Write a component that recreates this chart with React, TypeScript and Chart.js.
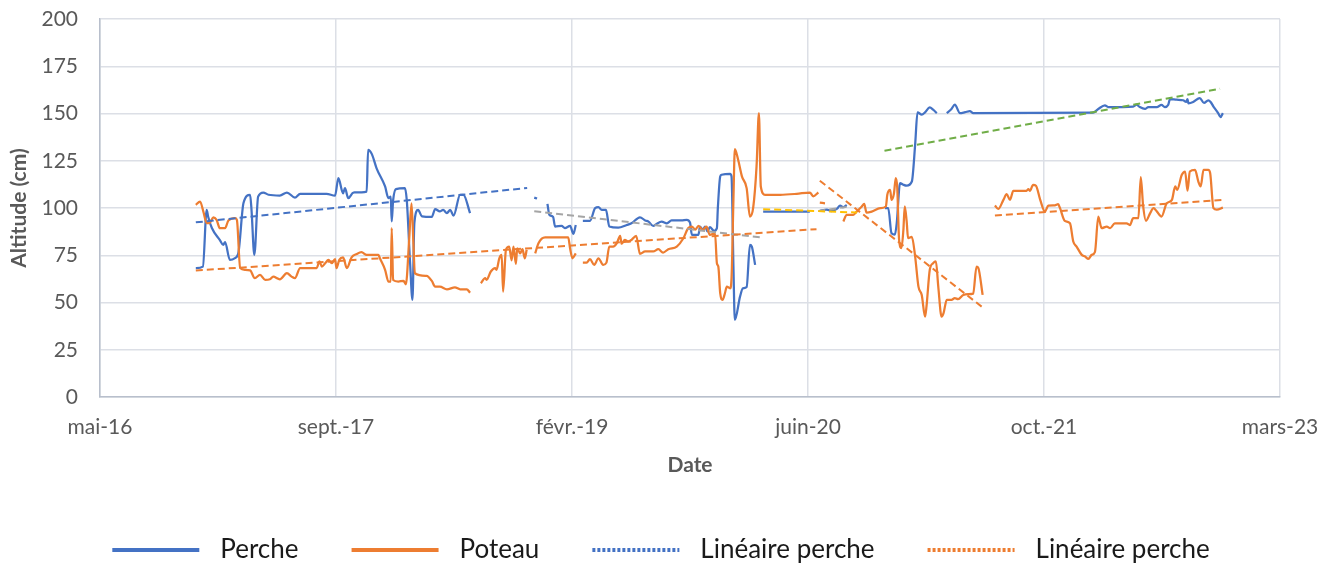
import React, { useEffect, useRef } from 'react';
import { Chart, registerables } from 'chart.js';

Chart.register(...registerables);

// X axis: Excel date serials (days), ticks every 500 days
const X_TICK_VALUES = [42500, 43000, 43500, 44000, 44500, 45000];
const X_TICK_LABELS = ['mai-16', 'sept.-17', 'févr.-19', 'juin-20', 'oct.-21', 'mars-23'];

// Perche (null = gap between measurement campaigns)
const PERCHE: [number, number | null][] = [
  [42703, 68.2], [42718, 69], [42726, 99], [42729, 95.5], [42737, 89.4], [42754, 83], [42761, 80.5], [42765, 82],
  [42775, 72.6], [42786, 73.5], [42793, 76], [42804, 102.6], [42818, 107], [42821, 99], [42827, 75.2], [42835, 106],
  [42846, 108.2], [42857, 107], [42881, 106.6], [42896, 108.2], [42913, 105.5], [42924, 107.5], [42980, 107.5],
  [42998, 106.5], [43005, 115.8], [43015, 107.8], [43019, 110.5], [43026, 105.2], [43037, 108.2], [43065, 108.7],
  [43068, 130.8], [43076, 128.5], [43086, 121], [43104, 111.4], [43111, 105.2], [43116, 106], [43118, 92.9],
  [43121, 104], [43127, 110], [43146, 110.5], [43150, 104], [43157, 70.8], [43162, 51.4], [43166, 92], [43174, 99],
  [43182, 95.6], [43203, 95.3], [43210, 99.4], [43220, 98.2], [43227, 99], [43235, 97.3], [43242, 99], [43249, 96],
  [43263, 107], [43270, 107], [43284, 97.3],
  [43350, null],
  [43420, 105.5], [43426, 105],
  [43437, null],
  [43448, 102.2], [43452, 96.4], [43460, 95.3], [43464, 90.2], [43478, 90.5], [43485, 89.4], [43496, 90.5],
  [43503, 86.3], [43508, 91],
  [43515, null],
  [43523, 93.2], [43538, 93.2], [43549, 99.9], [43556, 100.4], [43563, 99], [43572, 99], [43579, 90.2], [43598, 89.6],
  [43616, 91], [43626, 91.9], [43644, 95.1], [43655, 93.4], [43662, 92.8], [43672, 90.5], [43679, 91.6], [43690, 92.8],
  [43701, 91.9], [43711, 93.4], [43732, 93.4], [43743, 93.7], [43750, 92.3], [43754, 85.8], [43768, 85.8],
  [43771, 90.2], [43777, 88.5], [43782, 90.2], [43787, 87.6], [43792, 89.9], [43801, 87.9], [43807, 89.4],
  [43809, 99.9], [43814, 116.7], [43817, 117.6], [43835, 118.1], [43838, 116.7], [43842, 69], [43845, 40.8],
  [43856, 53.1], [43862, 57.5], [43870, 58.2], [43877, 80.5], [43881, 79.6], [43888, 69.9],
  [43896, null],
  [43905, 98.1], [44004, 98.1],
  [44014, null],
  [44025, 98.4], [44040, 99.2], [44050, 98.3], [44061, 99.5], [44068, 101.2], [44075, 100.4], [44082, 101.6],
  [44120, null],
  [44163, 99.9], [44170, 99.9], [44177, 86.6], [44184, 85.9], [44188, 92], [44195, 113.2], [44202, 112.3],
  [44209, 111.8], [44220, 114], [44227, 133.5], [44232, 150.6], [44241, 149.4], [44248, 150.6], [44258, 153.2],
  [44265, 152], [44273, 150.2],
  [44283, null],
  [44294, 150.2], [44304, 152.4], [44311, 154.7], [44322, 150.2], [44333, 150.7], [44343, 151.2], [44350, 150.2],
  [44604, 150.4], [44615, 152.4], [44629, 154.3], [44636, 153.4], [44689, 153.7], [44696, 154.7], [44703, 153.4],
  [44714, 152.4], [44721, 153.4], [44739, 153.4], [44749, 154.5], [44756, 153.4], [44763, 154.5], [44767, 157.6],
  [44781, 157.3], [44795, 157], [44801, 156.1], [44804, 157.6], [44806, 155.4], [44816, 156.1], [44830, 158.2],
  [44839, 155.6], [44848, 157], [44853, 156.1], [44859, 153.7], [44869, 150.2], [44874, 148.1], [44879, 150.2],
];

// Poteau
const POTEAU: [number, number | null][] = [
  [42703, 101.7], [42712, 103.4], [42719, 98.1], [42726, 92], [42732, 92], [42740, 95.1], [42747, 93.7], [42754, 89.3],
  [42765, 89.3], [42772, 93.4], [42786, 94.6], [42790, 93.7], [42797, 68.2], [42807, 67.3], [42818, 67], [42828, 62.9],
  [42839, 64.6], [42850, 62], [42860, 62.3], [42867, 63.7], [42881, 62.3], [42896, 65.5], [42906, 63.7], [42913, 62.9],
  [42924, 68.2], [42959, 68.2], [42965, 71.7], [42970, 69], [42977, 70.8], [42984, 72.6], [42991, 70.8], [42998, 73],
  [43001, 68.2], [43007, 72.6], [43015, 73.9], [43023, 68.2], [43033, 73.9], [43044, 75.7], [43054, 76.6],
  [43065, 75.2], [43090, 75.2], [43093, 73.4], [43104, 67.3], [43111, 61.1], [43116, 61.1], [43118, 89.4],
  [43121, 61.9], [43132, 61.1], [43143, 61.5], [43148, 59.6], [43155, 83.2], [43160, 102.5], [43164, 81.4],
  [43167, 65.5], [43192, 64.1], [43203, 61.4], [43210, 58.4], [43220, 58.4], [43235, 57], [43252, 58], [43263, 57],
  [43277, 57], [43284, 55.2],
  [43295, null],
  [43307, 60.2], [43316, 62.9], [43319, 62], [43328, 66.4], [43337, 68.2], [43340, 67.3], [43346, 73.4], [43351, 75.2],
  [43354, 55.8], [43360, 77.9], [43367, 79.6], [43372, 72.3], [43376, 79.6], [43381, 70.5], [43384, 78.6], [43390, 76],
  [43395, 78.2], [43400, 73.4], [43404, 77.9],
  [43413, null],
  [43422, 76], [43429, 81.4], [43443, 84.5], [43492, 84.5], [43496, 78.6], [43501, 73.4], [43508, 76],
  [43515, null],
  [43523, 71.1], [43531, 71.1], [43538, 72.9], [43547, 69.9], [43556, 73.4], [43566, 69.9], [43573, 71.1],
  [43579, 79.6], [43587, 79.6], [43595, 81.4], [43602, 85.3], [43605, 81.1], [43612, 83.1], [43619, 82.3],
  [43626, 83.1], [43636, 85.3], [43644, 75.7], [43655, 77], [43672, 77], [43683, 78.2], [43693, 76.4], [43704, 78.2],
  [43722, 79.6], [43736, 84], [43746, 89.3], [43754, 90.2], [43761, 88.5], [43768, 90.6], [43777, 88.4], [43785, 90.2],
  [43792, 85.8], [43803, 86.6], [43807, 70.8], [43810, 69], [43814, 54.9], [43819, 51.4], [43824, 54.9], [43828, 58.4],
  [43835, 57.5], [43838, 62.9], [43842, 104.3], [43845, 131.1], [43852, 125.5], [43860, 116.7], [43870, 110.5],
  [43877, 95.5], [43884, 100.4], [43891, 122], [43896, 150.2], [43900, 111.4], [43909, 107], [43941, 107],
  [43976, 107.5], [44004, 108.2], [44011, 106.2], [44022, 108.2],
  [44023.5, null],
  [44025, 102.8], [44036, 102.5],
  [44050, null],
  [44075, 92.9], [44082, 96.4], [44096, 96.4], [44103, 98.1], [44114, 100.8], [44119, 102.2], [44124, 97.6],
  [44135, 98.1], [44153, 99.9], [44165, 100.8], [44168, 107], [44174, 109.6], [44177, 104.3], [44182, 107.5],
  [44186, 115.8], [44189, 111], [44193, 83.2], [44198, 78.8], [44202, 88], [44205, 100.8], [44209, 93], [44212, 84],
  [44220, 84.7], [44227, 74.3], [44234, 58.4], [44241, 54], [44248, 42.5], [44251, 47.8], [44258, 67.3], [44265, 70.8],
  [44271, 71.7], [44276, 58.4], [44283, 42.5], [44287, 44.2], [44294, 51.4], [44304, 51.4], [44311, 52.3],
  [44318, 51.8], [44329, 54], [44340, 54.4], [44350, 54.7], [44357, 69], [44361, 68.2], [44370, 54],
  [44383, null],
  [44396, 101.3], [44403, 99.5], [44414, 104.3], [44421, 107.3], [44428, 104.3], [44435, 109.1], [44463, 109.1],
  [44467, 110], [44470, 109.1], [44477, 112.3], [44483, 111.8], [44492, 104.3], [44502, 98.1], [44509, 101.2],
  [44523, 101.4], [44530, 102], [44534, 99.9], [44544, 93.2], [44555, 91.9], [44562, 82.3], [44569, 79.6],
  [44580, 75.2], [44587, 74.3], [44594, 73.1], [44601, 75.2], [44608, 76.8], [44615, 95.5], [44622, 89.3],
  [44633, 90.2], [44640, 89.3], [44650, 91.9], [44675, 91.9], [44682, 91], [44689, 94.6], [44700, 94.6],
  [44705, 116.3], [44710, 101.2], [44716, 93.2], [44725, 97.3], [44732, 99.9], [44739, 98.2], [44749, 95.5],
  [44760, 102.5], [44771, 104.3], [44778, 111.4], [44782, 109.6], [44792, 117.6], [44799, 119.3], [44804, 109.2],
  [44809, 119.3], [44820, 120.2], [44827, 114], [44832, 111.4], [44838, 120.2], [44848, 120.2], [44852, 118.5],
  [44859, 99.9], [44866, 99.1], [44879, 100.2],
];

// Linear trendlines (start / end points)
const TREND_PERCHE_1: [number, number][] = [[42703, 92.4], [43405, 110.6]];
const TREND_POTEAU_1: [number, number][] = [[42703, 66.9], [44018, 88.8]];
const TREND_GRIS_1: [number, number][] = [[43420, 98.3], [43902, 84.4]];
const TREND_JAUNE: [number, number][] = [[43905, 99.4], [44104, 97.6]];
const TREND_GRIS_2: [number, number][] = [[44022, 98.4], [44082, 100.6]];
const TREND_POTEAU_2: [number, number][] = [[44025, 114.4], [44368, 47.8]];
const TREND_VERT: [number, number][] = [[44162, 130.3], [44873, 163.1]];
const TREND_POTEAU_3: [number, number][] = [[44396, 96], [44880, 104.3]];

const LEGEND_LABELS = ['Perche', 'Poteau', 'Linéaire perche', 'Linéaire perche'];

const BLUE = '#4472c4';
const ORANGE = '#ed7d31';
const GREY = '#a5a5a5';
const YELLOW = '#ffc000';
const GREEN = '#70ad47';
const FONT = 'Lato, "Liberation Sans", sans-serif';

const toPts = (arr: [number, number | null][]) => arr.map(([x, y]) => ({ x, y }));

function legendLine(color: string, dotted: boolean): HTMLCanvasElement {
  const c = document.createElement('canvas');
  c.width = 124;
  c.height = 8;
  const ctx = c.getContext('2d')!;
  ctx.strokeStyle = color;
  ctx.lineWidth = 4;
  if (dotted) ctx.setLineDash([3, 2]);
  ctx.beginPath();
  ctx.moveTo(29, 4);
  ctx.lineTo(116, 4);
  ctx.stroke();
  return c;
}

export default function App() {
  const ref = useRef<HTMLCanvasElement>(null);

  useEffect(() => {
    if (!ref.current) return;
    const series = (label: string, data: [number, number | null][], color: string, order: number) => ({
      label,
      data: toPts(data),
      borderColor: color,
      backgroundColor: color,
      borderWidth: 2.25,
      pointRadius: 0,
      cubicInterpolationMode: 'monotone' as const,
      spanGaps: false,
      order,
    });
    const trend = (label: string, data: [number, number][], color: string) => ({
      label,
      data: toPts(data),
      borderColor: color,
      backgroundColor: color,
      borderWidth: 2,
      borderDash: [7, 4],
      pointRadius: 0,
      order: 0,
    });
    const legendImgs = [
      legendLine(BLUE, false),
      legendLine(ORANGE, false),
      legendLine(BLUE, true),
      legendLine(ORANGE, true),
    ];
    const chart = new Chart(ref.current, {
      type: 'line',
      data: {
        datasets: [
          series(LEGEND_LABELS[0], PERCHE, BLUE, 2),
          series(LEGEND_LABELS[1], POTEAU, ORANGE, 1),
          trend(LEGEND_LABELS[2], TREND_PERCHE_1, BLUE),
          trend(LEGEND_LABELS[3], TREND_POTEAU_1, ORANGE),
          trend('Linéaire (gris 1)', TREND_GRIS_1, GREY),
          trend('Linéaire (jaune)', TREND_JAUNE, YELLOW),
          trend('Linéaire (gris 2)', TREND_GRIS_2, GREY),
          trend('Linéaire (poteau 2)', TREND_POTEAU_2, ORANGE),
          trend('Linéaire (vert)', TREND_VERT, GREEN),
          trend('Linéaire (poteau 3)', TREND_POTEAU_3, ORANGE),
        ] as any,
      },
      options: {
        responsive: false,
        animation: false,
        layout: { padding: { top: 19, left: 0, right: 29, bottom: 0 } },
        plugins: {
          tooltip: { enabled: false },
          legend: {
            position: 'bottom',
            maxHeight: 52,
            labels: {
              usePointStyle: true,
              pointStyleWidth: 124,
              padding: 24,
              color: '#1a1a1a',
              font: { family: FONT, size: 26 },
              generateLabels: () =>
                LEGEND_LABELS.map((text, i) => ({
                  text,
                  datasetIndex: i,
                  fillStyle: 'transparent',
                  strokeStyle: 'transparent',
                  lineWidth: 0,
                  pointStyle: legendImgs[i] as any,
                  hidden: false,
                  fontColor: '#1a1a1a',
                })),
            },
          },
        },
        scales: {
          x: {
            type: 'linear',
            min: 42500,
            max: 45000,
            afterBuildTicks: (s: any) => {
              s.ticks = X_TICK_VALUES.map((v) => ({ value: v }));
            },
            afterFit: (s: any) => {
              s.height = 116;
              s.paddingRight = 42;
            },
            grid: { color: '#dcdfe6', lineWidth: 1.5, drawTicks: false },
            border: { color: '#b8bfcc', width: 1.5 },
            ticks: {
              padding: 18,
              color: '#595959',
              font: { family: FONT, size: 21 },
              maxRotation: 0,
              autoSkip: false,
              callback: (v: any) => {
                const i = X_TICK_VALUES.indexOf(Number(v));
                return i >= 0 ? X_TICK_LABELS[i] : '';
              },
            },
            title: {
              display: true,
              text: 'Date',
              color: '#595959',
              font: { family: FONT, size: 21, weight: 'bold' },
              padding: { top: 0, bottom: 35 },
            },
          },
          y: {
            min: 0,
            max: 200,
            afterFit: (s: any) => {
              s.width = 100;
              s.paddingTop = 0;
              s.paddingBottom = 0;
            },
            grid: { color: '#dcdfe6', lineWidth: 1.5, drawTicks: false },
            border: { color: '#b8bfcc', width: 1.5 },
            ticks: {
              stepSize: 25,
              padding: 22,
              color: '#595959',
              font: { family: FONT, size: 21 },
            },
            title: {
              display: true,
              text: 'Altitude (cm)',
              color: '#595959',
              font: { family: FONT, size: 21, weight: 'bold' },
              padding: { top: 7, bottom: 0 },
            },
          },
        },
      },
    });
    return () => chart.destroy();
  }, []);

  return (
    <div style={{ position: 'fixed', left: 0, top: 0, width: 1322, height: 565, background: '#fff' }}>
      <canvas ref={ref} width={1322} height={565} style={{ display: 'block' }} />
    </div>
  );
}
